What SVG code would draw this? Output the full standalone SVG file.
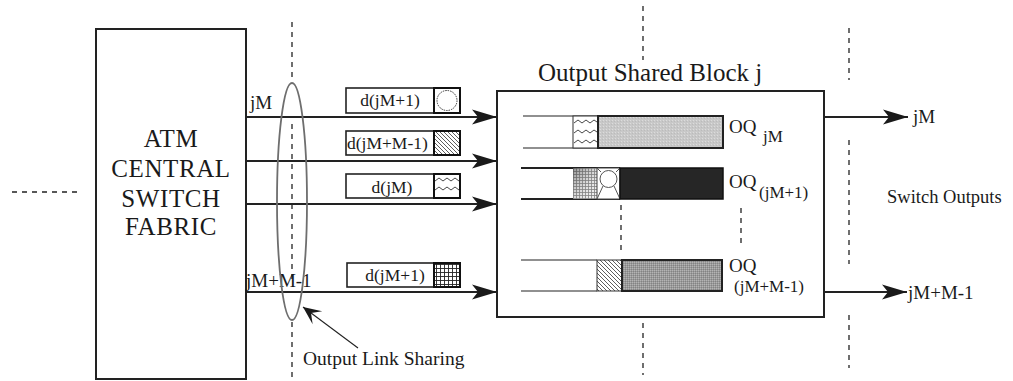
<svg xmlns="http://www.w3.org/2000/svg" width="1013" height="381" viewBox="0 0 1013 381">
  <style>
    text { font-family: "Liberation Serif", "Times New Roman", serif; fill: #1a1a1a; }
    .box { fill: #fff; stroke: #222; stroke-width: 2; }
    .thin { fill: none; stroke: #222; stroke-width: 1.2; }
    .wire { fill: none; stroke: #222; stroke-width: 1.8; }
    .dash { fill: none; stroke: #222; stroke-width: 1.3; stroke-dasharray: 5 5; }
    .pkt { fill: #fff; stroke: #222; stroke-width: 1.6; }
    .tag { stroke: #111; stroke-width: 2; }
    .zig { fill: none; stroke: #333; stroke-width: 0.9; }
  </style>
  <defs>
    <marker id="head" markerUnits="userSpaceOnUse" viewBox="-26 -8 27 16" refX="0" refY="0" markerWidth="27" markerHeight="16" orient="auto">
      <path d="M0,0 L-25,-7.5 L-19,0 L-25,7.5 Z" fill="#1a1a1a"/>
    </marker>
    <marker id="headSmall" markerUnits="userSpaceOnUse" viewBox="-19 -9 20 18" refX="0" refY="0" markerWidth="20" markerHeight="18" orient="auto">
      <path d="M0,0 L-18,-8 L-10,0 L-18,8 Z" fill="#1a1a1a"/>
    </marker>
    <pattern id="hatch" patternUnits="userSpaceOnUse" width="4" height="4">
      <rect width="4" height="4" fill="#fff"/>
      <path d="M-1,-1 L5,5 M-1,3 L1,5 M3,-1 L5,1" stroke="#333" stroke-width="0.8"/>
    </pattern>
    <pattern id="grid" patternUnits="userSpaceOnUse" width="4" height="4">
      <rect width="4" height="4" fill="#fff"/>
      <path d="M0,0.5 H4 M0.5,0 V4" stroke="#222" stroke-width="0.9"/>
    </pattern>
    <pattern id="fineGrid" patternUnits="userSpaceOnUse" width="3" height="3">
      <rect width="3" height="3" fill="#eee"/>
      <path d="M0,0.5 H3 M0.5,0 V3" stroke="#777" stroke-width="0.8"/>
    </pattern>
    <linearGradient id="gridShade" x1="0" y1="0" x2="1" y2="1">
      <stop offset="0" stop-color="#333" stop-opacity="0.5"/>
      <stop offset="1" stop-color="#fff" stop-opacity="0"/>
    </linearGradient>
    <pattern id="stippleLight" patternUnits="userSpaceOnUse" width="3" height="3">
      <rect width="3" height="3" fill="#c8c8c8"/>
      <rect x="0" y="0" width="1" height="1" fill="#dcdcdc"/>
      <rect x="2" y="1" width="1" height="1" fill="#bbbbbb"/>
    </pattern>
    <pattern id="stippleMid" patternUnits="userSpaceOnUse" width="2" height="2">
      <rect width="2" height="2" fill="#9a9a9a"/>
      <rect x="0" y="0" width="1" height="1" fill="#b4b4b4"/>
      <rect x="1" y="1" width="1" height="1" fill="#838383"/>
    </pattern>
  </defs>

  <rect width="1013" height="381" fill="#fff"/>

  <!-- dashed partition guides -->
  <g id="guides">
    <path class="dash" d="M12,192 H82" stroke-dasharray="6 5"/>
    <path class="dash" d="M292,22 V77 M292,124 V282 M292,322 V381"/>
    <path class="dash" d="M643,6 V60 M643,323 V375"/>
    <path class="dash" d="M849,28 V80 M849,140 V264 M849,315 V368"/>
  </g>

  <!-- central switch fabric -->
  <g id="fabric">
    <rect class="box" x="96" y="29" width="150" height="350"/>
    <g font-size="25" text-anchor="middle" letter-spacing="0.6">
      <text x="171" y="147">ATM</text>
      <text x="171" y="177">CENTRAL</text>
      <text x="171" y="207">SWITCH</text>
      <text x="171" y="235">FABRIC</text>
    </g>
  </g>

  <!-- links, output arrows and annotation pointer -->
  <g id="connectors">
    <path class="wire" d="M246,117 H497" marker-end="url(#head)"/>
    <path class="wire" d="M246,161 H497" marker-end="url(#head)"/>
    <path class="wire" d="M246,204 H497" marker-end="url(#head)"/>
    <path class="wire" d="M246,292 H497" marker-end="url(#head)"/>
    <path class="wire" d="M824,117 H908" marker-end="url(#head)"/>
    <path class="wire" d="M824,292 H907" marker-end="url(#head)"/>
    <path fill="none" stroke="#222" stroke-width="1.1" d="M358,348 L303,307" marker-end="url(#headSmall)"/>
  </g>

  <!-- link labels -->
  <g id="link-labels">
    <text x="250" y="109" font-size="19">jM</text>
    <text x="246" y="287" font-size="19">jM+M-1</text>
  </g>

  <!-- output link sharing ellipse -->
  <g id="link-sharing">
    <ellipse cx="292" cy="201.5" rx="15" ry="118.5" fill="none" stroke="#6e6e6e" stroke-width="1.8"/>
    <text x="303" y="365" font-size="19.5">Output Link Sharing</text>
  </g>

  <!-- cells on the shared links -->
  <g id="packet-1">
    <rect class="pkt" x="346" y="88" width="114" height="25"/>
    <text x="390" y="106" font-size="17.5" text-anchor="middle">d(jM+1)</text>
    <rect class="tag" x="434" y="88" width="26" height="25" fill="#fff"/>
    <circle cx="447" cy="100.5" r="10" fill="none" stroke="#333" stroke-width="1" stroke-dasharray="1.5 1"/>
  </g>
  <g id="packet-2">
    <rect class="pkt" x="346" y="131" width="114" height="24"/>
    <text x="347" y="149" font-size="17.5">d(jM+M-1)</text>
    <rect class="tag" x="434" y="131" width="26" height="24" fill="url(#hatch)"/>
  </g>
  <g id="packet-3">
    <rect class="pkt" x="346" y="174" width="114" height="24"/>
    <text x="392" y="193" font-size="17.5" text-anchor="middle">d(jM)</text>
    <rect class="tag" x="434" y="174" width="26" height="24" fill="#fff"/>
    <path class="zig" d="M435,181 l4,-3 l4,3 l4,-3 l4,3 l4,-3 l4,3 M435,190 l4,-3 l4,3 l4,-3 l4,3 l4,-3 l4,3"/>
  </g>
  <g id="packet-4">
    <rect class="pkt" x="347" y="263" width="113" height="24"/>
    <text x="395" y="281" font-size="17.5" text-anchor="middle">d(jM+1)</text>
    <rect class="tag" x="434" y="263" width="26" height="24" fill="url(#grid)"/>
  </g>

  <!-- output shared block -->
  <g id="shared-block">
    <rect class="box" x="497" y="91" width="327" height="226"/>
    <text x="538" y="81" font-size="25">Output Shared Block j</text>
    <path class="dash" d="M621,205 V250"/>
    <path class="dash" d="M741,208 V246"/>
  </g>

  <!-- output queue jM -->
  <g id="queue-jM">
    <path class="thin" d="M523,116 H598 M523,148 H598"/>
    <rect x="573" y="116" width="25" height="32" fill="#fff" stroke="#333" stroke-width="1"/>
    <path class="zig" d="M574,123 l4,-3 l4,3 l4,-3 l4,3 l4,-3 l3,2 M574,133 l4,-3 l4,3 l4,-3 l4,3 l4,-3 l3,2 M574,143 l4,-3 l4,3 l4,-3 l4,3 l4,-3 l3,2"/>
    <rect x="598" y="116" width="125" height="32" fill="url(#stippleLight)" stroke="#222" stroke-width="2"/>
    <text x="729" y="133" font-size="19">OQ</text>
    <text x="763" y="142" font-size="17">jM</text>
  </g>

  <!-- output queue jM+1 -->
  <g id="queue-jM1">
    <path class="wire" d="M521,168 H620 M521,199 H620"/>
    <rect x="573" y="168" width="24" height="31" fill="url(#fineGrid)"/>
    <rect x="573" y="168" width="24" height="31" fill="url(#gridShade)"/>
    <rect x="597" y="168" width="23" height="31" fill="#fff" stroke="#444" stroke-width="1"/>
    <path d="M597,199 L603,186 M620,199 L614,186 M597,168 L601,172 M620,168 L616,172" stroke="#555" stroke-width="1"/>
    <circle cx="608.5" cy="179" r="8.5" fill="#fff" stroke="#555" stroke-width="1"/>
    <rect x="620" y="168" width="103" height="31" fill="#262626" stroke="#111" stroke-width="1.5"/>
    <text x="729" y="188" font-size="19">OQ</text>
    <text x="759" y="198" font-size="17">(jM+1)</text>
  </g>

  <!-- output queue jM+M-1 -->
  <g id="queue-jMM1">
    <path class="thin" d="M521,260 H597 M521,291 H597"/>
    <rect x="597" y="260" width="25" height="31" fill="url(#hatch)" stroke="#333" stroke-width="1"/>
    <rect x="622" y="260" width="100" height="31" fill="url(#stippleMid)" stroke="#222" stroke-width="2"/>
    <text x="729" y="272" font-size="19">OQ</text>
    <text x="734" y="292" font-size="17">(jM+M-1)</text>
  </g>

  <!-- switch output labels -->
  <g id="outputs">
    <text x="913" y="123" font-size="19">jM</text>
    <text x="908" y="299" font-size="19">jM+M-1</text>
    <text x="887" y="203" font-size="18.5">Switch Outputs</text>
  </g>
</svg>
